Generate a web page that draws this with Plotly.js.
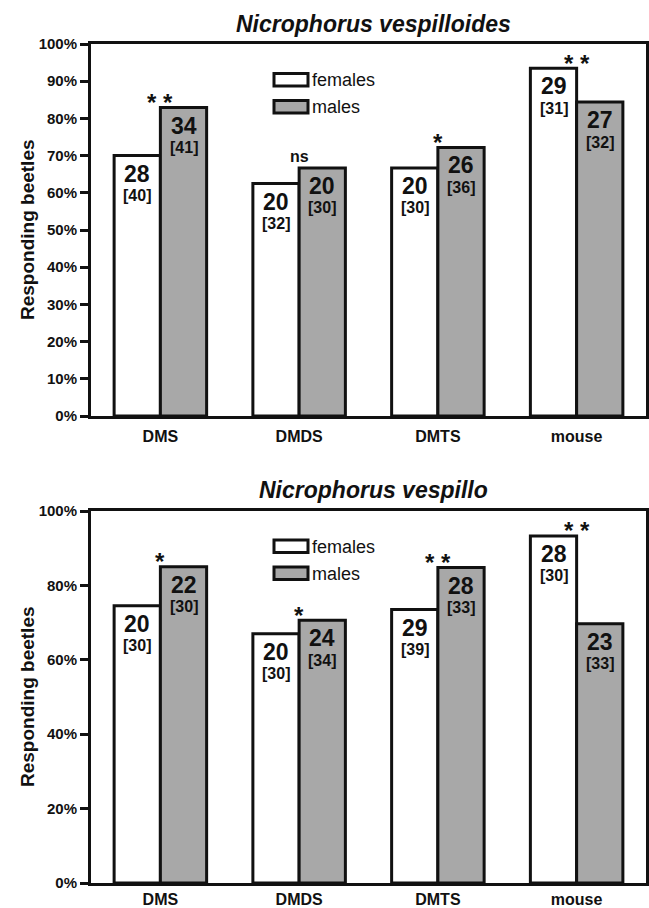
<!DOCTYPE html>
<html><head><meta charset="utf-8">
<script src="https://cdn.plot.ly/plotly-3.0.1.min.js"></script>
<style>html,body{margin:0;padding:0;background:#fff}#chart{width:649px;height:908px}</style>
</head><body><div id="chart"></div>
<script>
// ---- data ----
const categories = ['DMS', 'DMDS', 'DMTS', 'mouse'];
const seriesNames = ['females', 'males'];

const topTitle = 'Nicrophorus vespilloides';
const topFemales = [70.0, 62.5, 66.7, 93.5];
const topMales = [82.9, 66.7, 72.2, 84.4];
const topFemaleCounts = [28, 20, 20, 29];
const topFemaleTotals = [40, 32, 30, 31];
const topMaleCounts = [34, 20, 26, 27];
const topMaleTotals = [41, 30, 36, 32];
const topSignif = ['**', 'ns', '*', '**'];
const topTicks = [0, 10, 20, 30, 40, 50, 60, 70, 80, 90, 100];
const topTickLabels = ['0%', '10%', '20%', '30%', '40%', '50%', '60%', '70%', '80%', '90%', '100%'];

const bottomTitle = 'Nicrophorus vespillo';
const bottomFemales = [74.5, 67.0, 73.5, 93.3];
const bottomMales = [85.0, 70.6, 84.8, 69.7];
const bottomFemaleCounts = [20, 20, 29, 28];
const bottomFemaleTotals = [30, 30, 39, 30];
const bottomMaleCounts = [22, 24, 28, 23];
const bottomMaleTotals = [30, 34, 33, 33];
const bottomSignif = ['*', '*', '**', '**'];
const bottomTicks = [0, 20, 40, 60, 80, 100];
const bottomTickLabels = ['0%', '20%', '40%', '60%', '80%', '100%'];

const yTitle = 'Responding beetles';

// ---- layout helpers ----
const W = 649, H = 908;
const FONT = '"Liberation Sans", Arial, Helvetica, sans-serif';
const px = v => v / W;
const py = v => 1 - v / H;
const INK = '#111111';
const GREY = '#a8a8a8';

const panels = [
  {title: topTitle, f: topFemales, m: topMales, fc: topFemaleCounts, fn: topFemaleTotals,
   mc: topMaleCounts, mn: topMaleTotals, sig: topSignif, ticks: topTicks, tickLabels: topTickLabels,
   xa: 'x', ya: 'y', top: 44, bottom: 416, titleY: 23.5, legTop: 73.5, standoff: 4},
  {title: bottomTitle, f: bottomFemales, m: bottomMales, fc: bottomFemaleCounts, fn: bottomFemaleTotals,
   mc: bottomMaleCounts, mn: bottomMaleTotals, sig: bottomSignif, ticks: bottomTicks, tickLabels: bottomTickLabels,
   xa: 'x2', ya: 'y2', top: 511, bottom: 883, titleY: 490, legTop: 540, standoff: 0}
];

const plotLeft = 91, plotRight = 646;
const halfBar = (plotRight - plotLeft) / 4 / 6; // px offset of each bar centre

const traces = [];
const annotations = [];
const shapes = [];
const layout = {
  width: W, height: H,
  margin: {l: 0, r: 0, t: 0, b: 0},
  paper_bgcolor: '#fff', plot_bgcolor: '#fff',
  showlegend: false,
  barmode: 'group', bargap: 1/3, bargroupgap: 0,
  font: {family: FONT, color: INK}
};

panels.forEach((p, k) => {
  const sfx = k === 0 ? '' : '2';
  traces.push({
    type: 'bar', name: seriesNames[0], x: categories, y: p.f,
    xaxis: p.xa, yaxis: p.ya,
    marker: {color: '#ffffff', line: {color: INK, width: 3}}, hoverinfo: 'x+y'
  });
  traces.push({
    type: 'bar', name: seriesNames[1], x: categories, y: p.m,
    xaxis: p.xa, yaxis: p.ya,
    marker: {color: GREY, line: {color: INK, width: 3}}, hoverinfo: 'x+y'
  });

  layout['xaxis' + sfx] = {
    domain: [px(plotLeft), px(plotRight)], anchor: p.ya,
    type: 'category', range: [-0.5, 3.5],
    showline: true, linewidth: 3, linecolor: INK, mirror: true,
    ticks: '', showgrid: false, zeroline: false, fixedrange: true,
    ticklabelstandoff: p.standoff,
    tickfont: {family: FONT, size: 16, weight: 'bold', color: INK}
  };
  layout['yaxis' + sfx] = {
    domain: [py(p.bottom), py(p.top)], anchor: p.xa,
    range: [0, 100], tickmode: 'array', tickvals: p.ticks, ticktext: p.tickLabels,
    showline: true, linewidth: 3, linecolor: INK, mirror: true,
    ticks: 'outside', ticklen: 8, tickwidth: 3, tickcolor: INK,
    showgrid: false, zeroline: false, fixedrange: true,
    tickfont: {family: FONT, size: 15, weight: 'bold', color: INK}
  };

  // panel title
  annotations.push({
    xref: 'paper', yref: 'paper', x: px(373), y: py(p.titleY),
    xanchor: 'center', yanchor: 'middle', showarrow: false,
    text: p.title, font: {family: FONT, size: 23, weight: 'bold', style: 'italic', color: INK}
  });
  // y axis title
  annotations.push({
    xref: 'paper', yref: 'paper', x: px(27), y: py((p.top + p.bottom) / 2),
    xanchor: 'center', yanchor: 'middle', showarrow: false, textangle: -90,
    text: yTitle, font: {family: FONT, size: 19, weight: 'bold', color: INK}
  });

  // bar labels
  categories.forEach((c, i) => {
    [[p.f[i], p.fc[i], p.fn[i], -halfBar], [p.m[i], p.mc[i], p.mn[i], halfBar]].forEach(([v, cnt, tot, dx]) => {
      annotations.push({
        xref: p.xa, yref: p.ya, x: c, y: v, xshift: dx, yshift: -18,
        xanchor: 'center', yanchor: 'middle', showarrow: false,
        text: String(cnt), font: {family: FONT, size: 23, weight: 'bold', color: INK}
      });
      annotations.push({
        xref: p.xa, yref: p.ya, x: c, y: v, xshift: dx, yshift: -40,
        xanchor: 'center', yanchor: 'middle', showarrow: false,
        text: '[' + tot + ']', font: {family: FONT, size: 16, weight: 'bold', color: INK}
      });
    });
    const s = p.sig[i];
    const isNs = s === 'ns';
    annotations.push({
      xref: p.xa, yref: p.ya, x: c, y: Math.max(p.f[i], p.m[i]),
      yshift: isNs ? 11 : 5, xanchor: 'center', yanchor: 'middle', showarrow: false,
      text: isNs ? 'ns' : s.split('').join(' '),
      font: {family: FONT, size: isNs ? 16 : 24, weight: 'bold', color: INK}
    });
  });

  // legend
  const legRows = [[seriesNames[0], '#ffffff'], [seriesNames[1], GREY]];
  legRows.forEach(([name, fill], r) => {
    const t = p.legTop + r * 27;
    shapes.push({
      type: 'rect', xref: 'paper', yref: 'paper',
      x0: px(274), x1: px(308), y0: py(t + 12.5), y1: py(t),
      fillcolor: fill, line: {color: INK, width: 3}
    });
    annotations.push({
      xref: 'paper', yref: 'paper', x: px(310), y: py(t + 6.5),
      xanchor: 'left', yanchor: 'middle', showarrow: false,
      text: name, font: {family: FONT, size: 18, color: INK}
    });
  });
});

layout.annotations = annotations;
layout.shapes = shapes;

Plotly.newPlot('chart', traces, layout, {staticPlot: true, displayModeBar: false});
</script>
</body></html>
